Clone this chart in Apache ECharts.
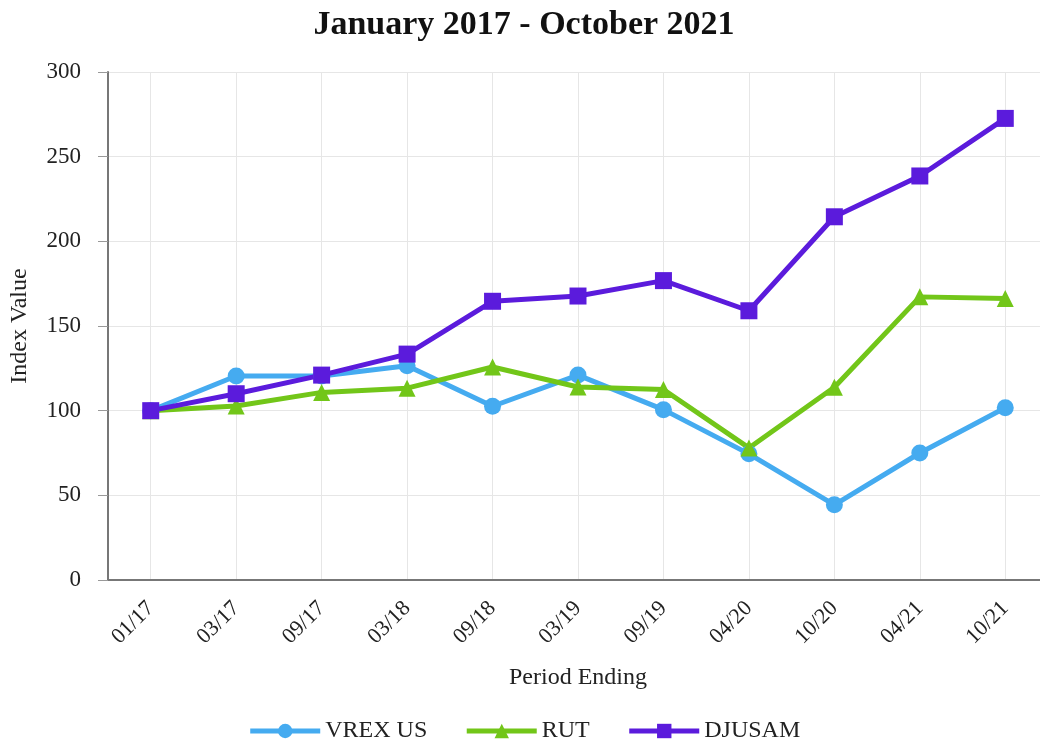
<!DOCTYPE html>
<html>
<head>
<meta charset="utf-8">
<script src="https://cdn.jsdelivr.net/npm/echarts@6/dist/echarts.min.js"></script>
<style>
html,body{margin:0;padding:0;background:#fff;overflow:hidden;width:1040px;height:748px;}
#chart{width:1048px;height:748px;}
</style>
</head>
<body>
<div id="chart"></div>
<script>
const categories = ['01/17','03/17','09/17','03/18','09/18','03/19','09/19','04/20','10/20','04/21','10/21'];
const vrexValues = [100, 120.5, 120.5, 126.5, 102.6, 121, 100.6, 74.5, 44.4, 75, 101.7];
const rutValues = [100, 102.8, 110.8, 113.3, 125.8, 114, 112.5, 78, 113.8, 167.2, 166.3];
const djusamValues = [100, 110, 121, 133.4, 164.6, 167.7, 176.8, 159, 214.5, 238.6, 272.6];
const yTicks = [0, 50, 100, 150, 200, 250, 300];

const FONT = "'Liberation Serif', 'Times New Roman', serif";
const chart = echarts.init(document.getElementById('chart'), null, {renderer: 'canvas'});
chart.setOption({
  backgroundColor: '#ffffff',
  animation: false,
  textStyle: {fontFamily: FONT},
  title: {
    text: 'January 2017 - October 2021',
    left: 'center',
    top: 3,
    textStyle: {fontFamily: FONT, fontSize: 34, fontWeight: 'bold', color: '#111'}
  },
  legend: {
    bottom: 0,
    left: 'center',
    itemWidth: 70,
    itemHeight: 18,
    itemGap: 37,
    lineStyle: {width: 5},
    textStyle: {fontFamily: FONT, fontSize: 24, color: '#222'},
    data: ['VREX US', 'RUT', 'DJUSAM']
  },
  grid: {left: 106, right: 0, top: 72, bottom: 168, containLabel: false},
  xAxis: {
    type: 'category',
    data: categories,
    boundaryGap: true,
    name: 'Period Ending',
    nameLocation: 'middle',
    nameGap: 86,
    nameTextStyle: {fontFamily: FONT, fontSize: 24, color: '#222'},
    axisLine: {lineStyle: {color: '#777', width: 2}},
    axisTick: {alignWithLabel: true, length: 9, lineStyle: {color: '#999'}},
    splitLine: {show: true, alignWithLabel: true, lineStyle: {color: '#e6e6e6', width: 1}},
    axisLabel: {rotate: 45, margin: 25, fontFamily: FONT, fontSize: 22, color: '#222', interval: 0}
  },
  yAxis: {
    type: 'value',
    min: yTicks[0],
    max: yTicks[yTicks.length - 1],
    interval: 50,
    name: 'Index Value',
    nameLocation: 'middle',
    nameGap: 76,
    nameTextStyle: {fontFamily: FONT, fontSize: 24, color: '#222'},
    axisLine: {show: true, lineStyle: {color: '#777', width: 2}},
    axisTick: {show: true, length: 10, lineStyle: {color: '#999'}},
    splitLine: {show: true, lineStyle: {color: '#e6e6e6', width: 1}},
    axisLabel: {margin: 27, fontFamily: FONT, fontSize: 23, color: '#222'}
  },
  series: [
    {
      name: 'VREX US', type: 'line', data: vrexValues,
      symbol: 'circle', symbolSize: 17,
      lineStyle: {width: 5, color: '#45abf0'},
      itemStyle: {color: '#45abf0'}
    },
    {
      name: 'RUT', type: 'line', data: rutValues,
      symbol: 'triangle', symbolSize: 17,
      lineStyle: {width: 5, color: '#72c619'},
      itemStyle: {color: '#72c619'}
    },
    {
      name: 'DJUSAM', type: 'line', data: djusamValues,
      symbol: 'rect', symbolSize: 17,
      lineStyle: {width: 5, color: '#5b1bdc'},
      itemStyle: {color: '#5b1bdc'}
    }
  ]
});
</script>
</body>
</html>
